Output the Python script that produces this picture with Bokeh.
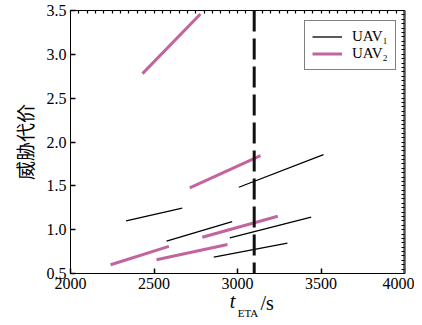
import numpy as np
from bokeh.plotting import figure
from bokeh.models import (ColumnDataSource, LinearAxis, FixedTicker,
                          Span, Legend, LegendItem, Range1d, PrintfTickFormatter)
from bokeh.embed import file_html
from bokeh.resources import INLINE

# ---- data ----
uav1_x0 = [2333, 2575, 2858, 2954, 3008]
uav1_x1 = [2669, 2968, 3299, 3441, 3515]
uav1_y0 = [1.10, 0.868, 0.686, 0.907, 1.484]
uav1_y1 = [1.245, 1.093, 0.846, 1.142, 1.857]

uav2_x0 = [2240, 2515, 2789, 2714, 2431]
uav2_x1 = [2589, 2940, 3241, 3138, 2778]
uav2_y0 = [0.60, 0.656, 0.914, 1.477, 2.78]
uav2_y1 = [0.81, 0.83, 1.153, 1.845, 3.46]

deadline = 3100
x_ticks = [2000, 2500, 3000, 3500, 4000]
y_ticks = [0.5, 1.0, 1.5, 2.0, 2.5, 3.0, 3.5]
series_labels = ["UAV\u2081", "UAV\u2082"]
# x-axis title pieces: t (italic), ETA (subscript), /s
xlabel_t, xlabel_eta, xlabel_s = "t", "ETA", "/s"
xlabel_pos = {"t": 2970, "ETA": 3063, "/s": 3177}

BLACK = "#000000"
PINK = "#c2649e"
SERIF = "Liberation Serif"

# canvas starts at the page's top-left corner
p = figure(width=414, height=322,
           x_range=Range1d(x_ticks[0], x_ticks[-1]), y_range=Range1d(y_ticks[0], y_ticks[-1]),
           output_backend="svg", toolbar_location=None,
           x_axis_location=None, y_axis_location=None,
           min_border_left=70, min_border_right=10, min_border_top=10, min_border_bottom=49)
p.background_fill_color = "white"
p.border_fill_color = "white"
p.grid.visible = False
p.outline_line_color = BLACK
p.outline_line_width = 1


def style_axis(ax):
    ax.major_tick_in = 5
    ax.major_tick_out = 0
    ax.minor_tick_in = 3
    ax.minor_tick_out = 0
    ax.axis_line_color = BLACK
    ax.major_tick_line_color = BLACK
    ax.minor_tick_line_color = BLACK
    ax.major_tick_line_width = 1.5
    ax.minor_tick_line_width = 1.2
    ax.major_label_text_font = SERIF
    ax.major_label_text_font_size = "16px"
    ax.major_label_text_color = BLACK
    return ax


def text_axis(pos, txt, size, style, standoff):
    ax = LinearAxis(ticker=FixedTicker(ticks=[pos]),
                    major_label_overrides={pos: txt})
    ax.axis_line_color = None
    ax.major_tick_line_color = None
    ax.minor_tick_line_color = None
    ax.major_tick_in = 0
    ax.major_tick_out = 0
    ax.minor_tick_in = 0
    ax.minor_tick_out = 0
    ax.major_label_text_font = SERIF
    ax.major_label_text_font_size = size
    ax.major_label_text_font_style = style
    ax.major_label_text_color = BLACK
    ax.major_label_standoff = standoff
    return ax


xb = style_axis(LinearAxis(ticker=FixedTicker(ticks=x_ticks, num_minor_ticks=10)))
xb.major_label_standoff = 4
ya = style_axis(LinearAxis(ticker=FixedTicker(ticks=y_ticks, num_minor_ticks=10),
                           formatter=PrintfTickFormatter(format="%.1f")))
ya.major_label_standoff = 4
ya.axis_label = "威胁代价"
ya.axis_label_text_font = "Noto Sans CJK SC"
ya.axis_label_text_font_style = "normal"
ya.axis_label_text_font_size = "19px"
ya.axis_label_text_color = BLACK
ya.axis_label_standoff = 6

# mirror axes on top/right: ticks only, no labels
x_minor = np.linspace(x_ticks[0], x_ticks[-1], (len(x_ticks) - 1) * 10 + 1).tolist()
y_minor = np.linspace(y_ticks[0], y_ticks[-1], (len(y_ticks) - 1) * 10 + 1).tolist()
xt = style_axis(LinearAxis(ticker=FixedTicker(ticks=[], minor_ticks=x_minor)))
yr = style_axis(LinearAxis(ticker=FixedTicker(ticks=[], minor_ticks=y_minor)))
yr.axis_line_width = 2.5
yr.axis_line_color = "#555555"

p.add_layout(xb, "below")
p.add_layout(text_axis(xlabel_pos["t"], xlabel_t, "20px", "italic", -2), "below")
p.add_layout(text_axis(xlabel_pos["/s"], xlabel_s, "20px", "normal", -23), "below")
p.add_layout(text_axis(xlabel_pos["ETA"], xlabel_eta, "11px", "normal", -10), "below")
p.add_layout(ya, "left")
p.add_layout(xt, "above")
p.add_layout(yr, "right")

src1 = ColumnDataSource(dict(x0=uav1_x0, x1=uav1_x1, y0=uav1_y0, y1=uav1_y1))
src2 = ColumnDataSource(dict(x0=uav2_x0, x1=uav2_x1, y0=uav2_y0, y1=uav2_y1))
r1 = p.segment("x0", "y0", "x1", "y1", source=src1, line_color=BLACK, line_width=1.3)
r2 = p.segment("x0", "y0", "x1", "y1", source=src2, line_color=PINK, line_width=3)

p.add_layout(Span(location=deadline, dimension="height", line_color="#111111",
                  line_width=3, line_dash="21 7"))

legend = Legend(items=[LegendItem(label=series_labels[0], renderers=[r1]),
                       LegendItem(label=series_labels[1], renderers=[r2])],
                location=(234, 203))
legend.label_text_font = SERIF
legend.label_text_font_size = "15px"
legend.label_text_color = BLACK
legend.glyph_width = 30
legend.glyph_height = 15
legend.spacing = 0
legend.padding = 7
legend.label_standoff = 10
legend.border_line_color = BLACK
legend.border_line_width = 1.5
legend.background_fill_alpha = 1
p.add_layout(legend, "center")

open("out.html", "w").write(file_html(p, INLINE))
